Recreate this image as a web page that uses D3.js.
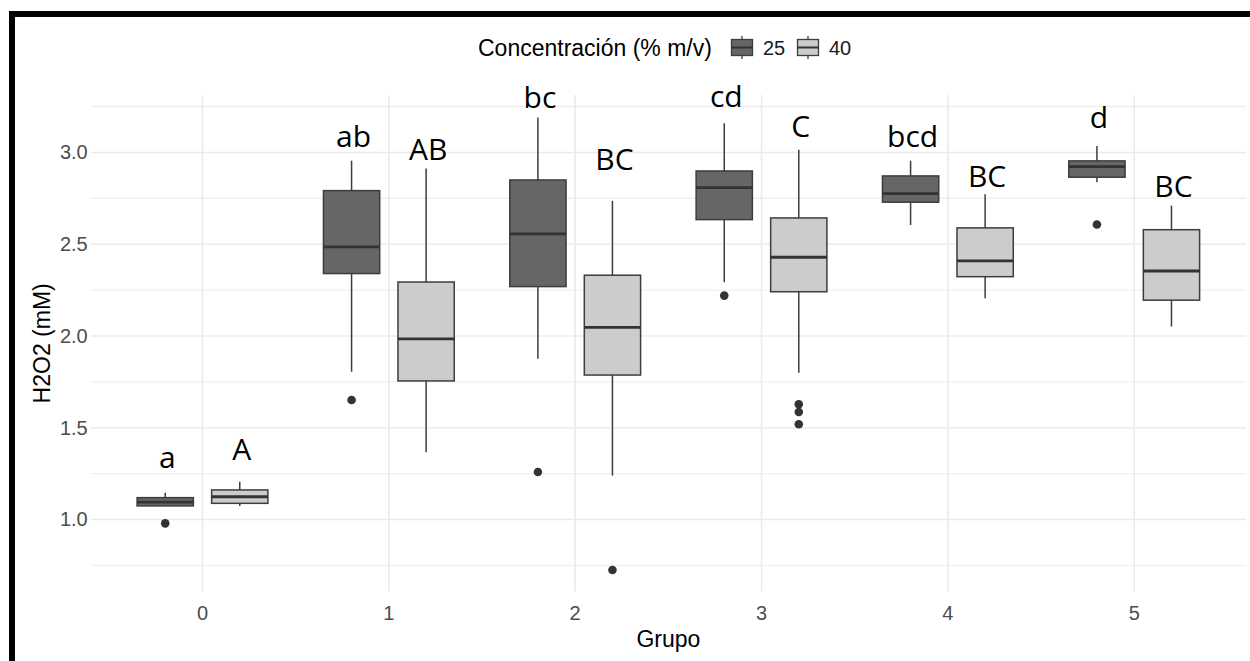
<!DOCTYPE html>
<html>
<head>
<meta charset="utf-8">
<script src="https://cdn.jsdelivr.net/npm/d3@7"></script>
<style>
  html, body { margin: 0; padding: 0; background: #fff; }
  svg { display: block; }
</style>
</head>
<body>
<div id="chart"></div>
<script>
// groups and concentrations
const grupos = ["0", "1", "2", "3", "4", "5"];
const concentraciones = ["25", "40"];

// 25 % m/v boxes
const lo25  = [1.074, 1.805, 1.876, 2.293, 2.605, 2.838];
const q1_25 = [1.074, 2.340, 2.269, 2.634, 2.729, 2.865];
const med25 = [1.095, 2.485, 2.556, 2.808, 2.776, 2.923];
const q3_25 = [1.119, 2.792, 2.850, 2.899, 2.872, 2.954];
const hi25  = [1.146, 2.955, 3.190, 3.159, 2.955, 3.035];
const out25 = [[0.979], [1.651], [1.259], [2.220], [], [2.607]];

// 40 % m/v boxes
const lo40  = [1.074, 1.366, 1.239, 1.800, 2.205, 2.051];
const q1_40 = [1.088, 1.755, 1.787, 2.241, 2.323, 2.195];
const med40 = [1.124, 1.984, 2.047, 2.429, 2.409, 2.354];
const q3_40 = [1.161, 2.294, 2.331, 2.643, 2.589, 2.579];
const hi40  = [1.206, 2.912, 2.736, 3.014, 2.772, 2.710];
const out40 = [[], [], [0.725], [1.628, 1.586, 1.519], [], []];

// significance letters and the y value of their baseline
const letras25 = ["a", "ab", "bc", "cd", "bcd", "d"];
const letrasY25 = [1.281, 3.028, 3.241, 3.246, 3.028, 3.132];
const letras40 = ["A", "AB", "BC", "C", "BC", "BC"];
const letrasY40 = [1.324, 2.959, 2.905, 3.086, 2.814, 2.759];

const yMajor = [1.0, 1.5, 2.0, 2.5, 3.0];
const yMinor = [0.75, 1.25, 1.75, 2.25, 2.75, 3.25];

const width = 1250, height = 661;
const panel = { left: 90.7, right: 1246, top: 95, bottom: 591.7 };
const fills = { "25": "#666666", "40": "#cccccc" };

const series = concentraciones.map(c => {
    const s = c === "25"
        ? { lo: lo25, q1: q1_25, med: med25, q3: q3_25, hi: hi25, out: out25, lab: letras25, labY: letrasY25 }
        : { lo: lo40, q1: q1_40, med: med40, q3: q3_40, hi: hi40, out: out40, lab: letras40, labY: letrasY40 };
    return grupos.map((g, i) => ({
        grupo: g, i, conc: c,
        lo: s.lo[i], q1: s.q1[i], med: s.med[i], q3: s.q3[i], hi: s.hi[i],
        out: s.out[i], lab: s.lab[i], labY: s.labY[i]
    }));
}).flat();

const svg = d3.select("#chart").append("svg")
    .attr("width", width)
    .attr("height", height)
    .attr("viewBox", `0 0 ${width} ${height}`);

const x = d3.scaleLinear()
    .domain([-0.6, grupos.length - 1 + 0.6])
    .range([panel.left, panel.right]);

const y = d3.scaleLinear()
    .domain([0.6065, 3.313])
    .range([panel.bottom, panel.top]);

const unit = x(1) - x(0);
const dodge = 0.2 * unit;
const boxW = 0.302 * unit;
const cx = d => x(d.i) + (d.conc === "25" ? -dodge : dodge);

// grid
const grid = svg.append("g");
grid.selectAll(".minor").data(yMinor).join("line")
    .attr("x1", panel.left).attr("x2", panel.right)
    .attr("y1", d => y(d)).attr("y2", d => y(d))
    .attr("stroke", "#efefef").attr("stroke-width", 1.4);
grid.selectAll(".major").data(yMajor).join("line")
    .attr("x1", panel.left).attr("x2", panel.right)
    .attr("y1", d => y(d)).attr("y2", d => y(d))
    .attr("stroke", "#ebebeb").attr("stroke-width", 1.6);
grid.selectAll(".vmajor").data(grupos).join("line")
    .attr("x1", (d, i) => x(i)).attr("x2", (d, i) => x(i))
    .attr("y1", panel.top).attr("y2", panel.bottom)
    .attr("stroke", "#ebebeb").attr("stroke-width", 1.6);

// boxes
const boxes = svg.append("g").selectAll("g").data(series).join("g");

boxes.append("line")
    .attr("x1", cx).attr("x2", cx)
    .attr("y1", d => y(d.hi)).attr("y2", d => y(d.q3))
    .attr("stroke", "#3d3d3d").attr("stroke-width", 1.5);
boxes.append("line")
    .attr("x1", cx).attr("x2", cx)
    .attr("y1", d => y(d.q1)).attr("y2", d => y(d.lo))
    .attr("stroke", "#3d3d3d").attr("stroke-width", 1.5);
boxes.append("rect")
    .attr("x", d => cx(d) - boxW / 2)
    .attr("width", boxW)
    .attr("y", d => y(d.q3))
    .attr("height", d => y(d.q1) - y(d.q3))
    .attr("fill", d => fills[d.conc])
    .attr("stroke", "#3d3d3d").attr("stroke-width", 1.5);
boxes.append("line")
    .attr("x1", d => cx(d) - boxW / 2).attr("x2", d => cx(d) + boxW / 2)
    .attr("y1", d => y(d.med)).attr("y2", d => y(d.med))
    .attr("stroke", "#333333").attr("stroke-width", 2.8);
boxes.selectAll("circle").data(d => d.out.map(v => ({ v, d }))).join("circle")
    .attr("cx", o => cx(o.d)).attr("cy", o => y(o.v))
    .attr("r", 4.3)
    .attr("fill", "#333333");

// letters
svg.append("g").selectAll("text").data(series).join("text")
    .attr("x", d => cx(d) + 2)
    .attr("y", d => y(d.labY))
    .attr("text-anchor", "middle")
    .attr("font-family", "'Open Sans', sans-serif")
    .attr("font-size", 30)
    .attr("fill", "#000")
    .text(d => d.lab);

// axis labels
const axisFont = "'Liberation Sans', Arial, sans-serif";
svg.append("g").selectAll("text").data(yMajor).join("text")
    .attr("x", panel.left - 3)
    .attr("y", d => y(d))
    .attr("dy", "0.35em")
    .attr("text-anchor", "end")
    .attr("font-family", axisFont)
    .attr("font-size", 20)
    .attr("fill", "#4d4d4d")
    .text(d => d.toFixed(1));

svg.append("g").selectAll("text").data(grupos).join("text")
    .attr("x", (d, i) => x(i))
    .attr("y", 620)
    .attr("text-anchor", "middle")
    .attr("font-family", axisFont)
    .attr("font-size", 20)
    .attr("fill", "#4d4d4d")
    .text(d => d);

svg.append("text")
    .attr("x", (panel.left + panel.right) / 2)
    .attr("y", 647)
    .attr("text-anchor", "middle")
    .attr("font-family", axisFont)
    .attr("font-size", 23)
    .attr("fill", "#000")
    .text("Grupo");

svg.append("text")
    .attr("transform", `translate(50,${(panel.top + panel.bottom) / 2}) rotate(-90)`)
    .attr("text-anchor", "middle")
    .attr("font-family", axisFont)
    .attr("font-size", 23)
    .attr("fill", "#000")
    .text("H2O2 (mM)");

// legend
const legend = svg.append("g");
legend.append("text")
    .attr("x", 478).attr("y", 56)
    .attr("font-family", axisFont)
    .attr("font-size", 23)
    .attr("fill", "#000")
    .text("Concentración (% m/v)");

const keyX = { "25": 731, "40": 797 };
const keys = legend.selectAll(".key").data(concentraciones).join("g")
    .attr("transform", c => `translate(${keyX[c]},0)`);
keys.append("line")
    .attr("x1", 11).attr("x2", 11).attr("y1", 36).attr("y2", 59)
    .attr("stroke", "#3d3d3d").attr("stroke-width", 1.3);
keys.append("rect")
    .attr("x", 0.5).attr("y", 39.5).attr("width", 21).attr("height", 16)
    .attr("fill", c => fills[c])
    .attr("stroke", "#3d3d3d").attr("stroke-width", 1.3);
keys.append("line")
    .attr("x1", 0.5).attr("x2", 21.5).attr("y1", 47.5).attr("y2", 47.5)
    .attr("stroke", "#333").attr("stroke-width", 2);
keys.append("text")
    .attr("x", 32).attr("y", 55)
    .attr("font-family", axisFont)
    .attr("font-size", 20)
    .attr("fill", "#1a1a1a")
    .text(c => c);

// black frame
svg.append("rect").attr("x", 9).attr("y", 11).attr("width", width - 9).attr("height", 6).attr("fill", "#000");
svg.append("rect").attr("x", 9).attr("y", 11).attr("width", 6).attr("height", height - 11).attr("fill", "#000");
</script>
</body>
</html>
